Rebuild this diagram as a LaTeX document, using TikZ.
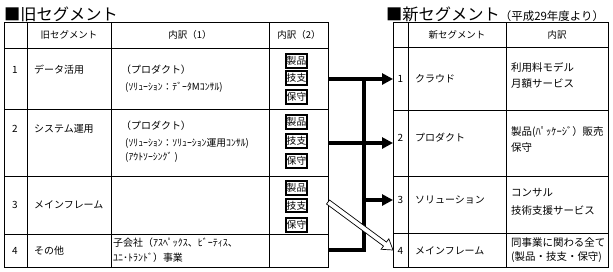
\documentclass[tikz,border=0pt]{standalone}
\usepackage{fontspec}
\setmainfont{Noto Sans CJK JP}
\usetikzlibrary{arrows.meta,calc}
\tikzset{
  grid/.style={draw=black, line width=0.8bp},
  cell/.style={inner sep=0pt, font=\fontsize{10}{12}\selectfont},
  lcell/.style={cell, anchor=west},
  rcell/.style={inner sep=0pt, anchor=west, font=\fontsize{10.5}{12}\selectfont},
  small/.style={inner sep=0pt, anchor=west, font=\fontsize{9.8}{11}\selectfont},
  head/.style={inner sep=0pt, font=\fontsize{9.5}{11}\selectfont},
  title/.style={inner sep=0pt, anchor=west, font=\fontsize{16.3}{18}\selectfont},
  tag/.style={draw=black, line width=1.9bp, minimum width=21bp, minimum height=13.5bp, inner sep=0pt, font=\fontsize{9.8}{11}\selectfont},
  flow/.style={line width=4bp, line join=miter},
  flowarrow/.style={flow, -{Triangle[length=11bp,width=11bp]}},
  hollow/.style={draw=black, line width=0.7bp, fill=white, line join=miter},
}
\begin{document}
\begin{tikzpicture}[x=1bp,y=-1bp]
\useasboundingbox[fill=white] (0,0) rectangle (613,271);

% titles
\node[title] (t1) at (4,14) {■旧セグメント};
\node[title] (t2) at (386,14) {■新セグメント\fontsize{11.5}{13}\selectfont（平成29年度より）};

% left table grid
\draw[grid] (4,22) rectangle (328,267);
\draw[grid] (27,22) -- (27,267);
\draw[grid] (111,22) -- (111,267);
\draw[grid] (269,22) -- (269,267);
\draw[grid] (4,48) -- (328,48);
\draw[grid] (4,109) -- (328,109);
\draw[grid] (4,176) -- (328,176);
\draw[grid] (4,234) -- (328,234);

% left headers
\node[head] (lh2) at (69,35) {旧セグメント};
\node[head] (lh3) at (190,35) {内訳（1）};
\node[head] (lh4) at (299,35) {内訳（2）};

% left rows
\node[cell] (ln1) at (15,70) {1};
\node[lcell] (ls1) at (34,70) {データ活用};
\node[lcell] (ld1a) at (121,70) {（プロダクト）};
\node[small] (ld1b) at (125,87) {(ｿﾘｭｰｼｮﾝ：ﾃﾞｰﾀMｺﾝｻﾙ)};

\node[cell] (ln2) at (15,129) {2};
\node[lcell] (ls2) at (34,129) {システム運用};
\node[lcell] (ld2a) at (121,126) {（プロダクト）};
\node[small] (ld2b) at (125,143) {(ｿﾘｭｰｼｮﾝ：ｿﾘｭｰｼｮﾝ運用ｺﾝｻﾙ)};
\node[small] (ld2c) at (125,157) {(ｱｳﾄｿｰｼﾝｸﾞ )};

\node[cell] (ln3) at (15,205) {3};
\node[lcell] (ls3) at (34,205) {メインフレーム};

\node[cell] (ln4) at (15,251) {4};
\node[lcell] (ls4) at (34,251) {その他};
\node[lcell] (ld4a) at (113,243) {子会社（ｱｽﾍﾟｯｸｽ、ﾋﾞｰﾃｨｽ、};
\node[lcell] (ld4b) at (113,258) {ﾕﾆ･ﾄﾗﾝﾄﾞ）事業};

% tags
\node[tag] (p1) at (296.5,61) {製品};
\node[tag] (g1) at (296.5,78) {技支};
\node[tag] (h1) at (296.5,97) {保守};
\node[tag] (p2) at (296.5,122) {製品};
\node[tag] (g2) at (296.5,141) {技支};
\node[tag] (h2) at (296.5,161) {保守};
\node[tag] (p3) at (296.5,188) {製品};
\node[tag] (g3) at (296.5,205.5) {技支};
\node[tag] (h3) at (296.5,225) {保守};

% right table grid
\draw[grid] (393,22) rectangle (608,267);
\draw[grid] (408,22) -- (408,267);
\draw[grid] (506,22) -- (506,267);
\draw[grid] (393,47) -- (608,47);
\draw[grid] (393,110) -- (608,110);
\draw[grid] (393,176) -- (608,176);
\draw[grid] (393,233) -- (608,233);

% right headers
\node[head] (rh2) at (457,35) {新セグメント};
\node[head] (rh3) at (557,35) {内訳};

% right rows
\node[cell] (rn1) at (400.5,79) {1};
\node[lcell] (rs1) at (415,79) {クラウド};
\node[rcell] (rd1a) at (511,67) {利用料モデル};
\node[rcell] (rd1b) at (511,84) {月額サービス};

\node[cell] (rn2) at (400.5,138) {2};
\node[lcell] (rs2) at (415,138) {プロダクト};
\node[rcell] (rd2a) at (511,132) {製品(ﾊﾟｯｹｰｼﾞ）販売};
\node[rcell] (rd2b) at (511,148) {保守};

\node[cell] (rn3) at (400.5,200) {3};
\node[lcell] (rs3) at (415,200) {ソリューション};
\node[rcell] (rd3a) at (511,193) {コンサル};
\node[rcell] (rd3b) at (511,211) {技術支援サービス};

\node[cell] (rn4) at (400.5,251) {4};
\node[lcell] (rs4) at (415,251) {メインフレーム};
\node[rcell] (rd4a) at (511,243) {同事業に関わる全て};
\node[rcell] (rd4b) at (511,257) {(製品・技支・保守)};

% connector coordinates
\coordinate (o1) at (328,79);
\coordinate (o2) at (328,143);
\coordinate (o3) at (328,202);
\coordinate (o4) at (328,250);
\coordinate (n1) at (393,79);
\coordinate (n2) at (393,143);
\coordinate (n3) at (393,200);
\coordinate (n4) at (393,250);
\coordinate (j1) at (364,79);
\coordinate (j3) at (364,200);

\draw[flowarrow] (o1) -- (n1);
\draw[flowarrow] (o2) -- (n2);
\draw[flow] (o4) -| ([yshift=-2bp]j1);
\draw[flowarrow] (j3) -- (n3);

% hollow arrow
\coordinate (hb) at ($(n4)!10bp!(o3)$);
\draw[hollow]
  ($(o3)!2.5bp!90:(n4)$) -- ($(hb)!2.5bp!-90:(o3)$) -- ($(hb)!6.5bp!-90:(o3)$) -- (n4)
  -- ($(hb)!6.5bp!90:(o3)$) -- ($(hb)!2.5bp!90:(o3)$) -- ($(o3)!2.5bp!-90:(n4)$) -- cycle;
\end{tikzpicture}
\end{document}
